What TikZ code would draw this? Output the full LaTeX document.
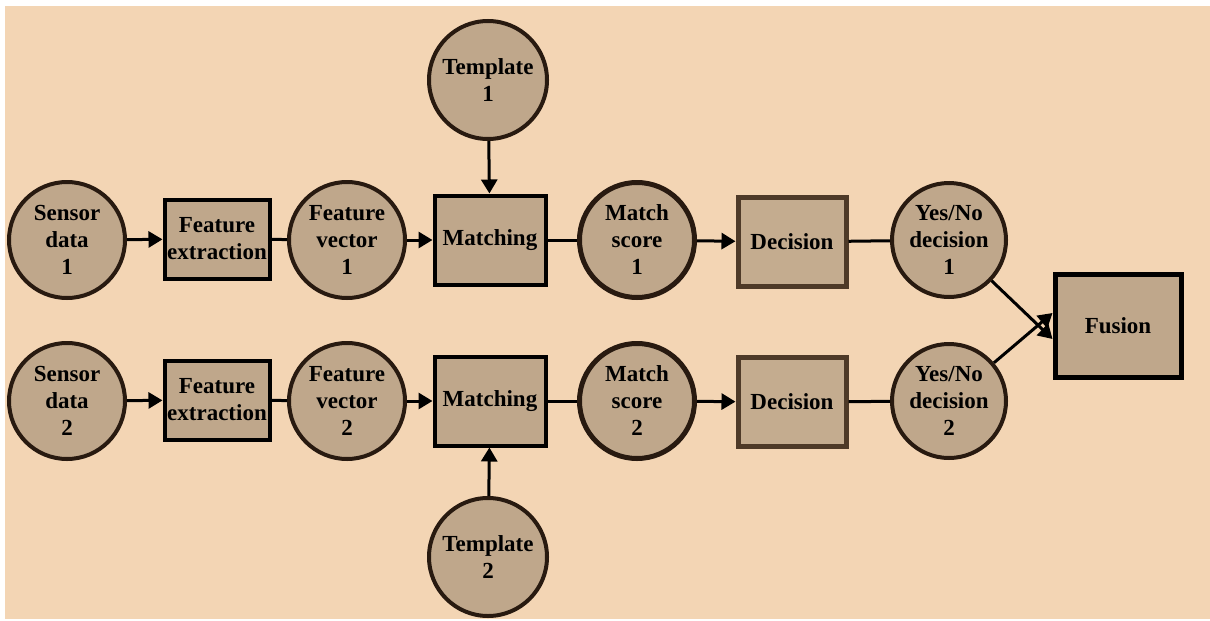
\documentclass[tikz,border=0pt]{standalone}
\usepackage{fontspec}
\setmainfont{Liberation Serif}
\usetikzlibrary{arrows.meta}
\definecolor{peach}{RGB}{243,213,180}
\definecolor{tan}{RGB}{191,167,139}
\definecolor{tanlight}{RGB}{196,172,143}
\definecolor{darkbrown}{RGB}{40,26,16}
\definecolor{edgebrown}{RGB}{78,58,40}
\begin{document}
\begin{tikzpicture}[x=1pt,y=-1pt,
  every node/.style={font=\bfseries\fontsize{23}{27}\selectfont, align=center, inner sep=0pt, fill=tan},
  roundnode/.style={circle, draw=darkbrown, line width=4pt, minimum size=116pt},
  boxnode/.style={rectangle, draw=black, line width=4pt},
  decbox/.style={rectangle, draw=edgebrown, line width=5pt, fill=tanlight, minimum width=108pt, minimum height=89pt},
  link/.style={line width=3pt, draw=black},
  arr/.style={link, -{Triangle[length=14pt,width=16pt]}}
]
% page and background
\useasboundingbox (0,0) rectangle (1210,621);
\fill[white] (0,0) rectangle (1210,621);
\fill[peach] (5,6) rectangle (1210,619);

% upper chain
\node[roundnode] (s1) at (67,240) {Sensor\\data\\1};
\node[boxnode, minimum width=105pt, minimum height=79pt] (fe1) at (217,239) {Feature\\extraction};
\node[roundnode] (fv1) at (347,240) {Feature\\vector\\1};
\node[boxnode, minimum width=111pt, minimum height=89pt] (m1) at (490,240) {Matching};
\node[roundnode, line width=5pt, minimum size=115pt] (ms1) at (637,240) {Match\\score\\1};
\node[decbox] (d1) at (792,242) {Decision};
\node[roundnode, minimum size=114pt] (y1) at (949,240) {Yes/No\\decision\\1};
\node[roundnode, minimum size=118pt] (t1) at (488,80) {Template\\1};

% lower chain
\node[roundnode] (s2) at (67,401) {Sensor\\data\\2};
\node[boxnode, minimum width=105pt, minimum height=79pt] (fe2) at (217,400) {Feature\\extraction};
\node[roundnode] (fv2) at (347,401) {Feature\\vector\\2};
\node[boxnode, minimum width=111pt, minimum height=89pt] (m2) at (490,401) {Matching};
\node[roundnode, line width=5pt, minimum size=115pt] (ms2) at (637,401) {Match\\score\\2};
\node[decbox] (d2) at (792,402) {Decision};
\node[roundnode, minimum size=114pt] (y2) at (949,401) {Yes/No\\decision\\2};
\node[roundnode, minimum size=118pt] (t2) at (488,557) {Template\\2};

% fusion, fed at two points on its left side
\node[boxnode, line width=5pt, minimum width=126pt, minimum height=103pt] (fu) at (1118,326) {Fusion};
\coordinate (fuin1) at ([yshift=-13pt]fu.west);
\coordinate (fuin2) at ([yshift=13pt]fu.west);

% connectors
\foreach \i in {1,2} {
  \draw[arr] (s\i) -- (fe\i);
  \draw[link] (fe\i) -- (fv\i);
  \draw[arr] (fv\i) -- (m\i);
  \draw[link] (m\i) -- (ms\i);
  \draw[arr] (ms\i) -- (d\i);
  \draw[link] (d\i) -- (y\i);
  \draw[arr] (t\i) -- (m\i);
}
\draw[arr] (y1) -- (fuin1);
\draw[arr] (y2) -- (fuin2);
\end{tikzpicture}
\end{document}
